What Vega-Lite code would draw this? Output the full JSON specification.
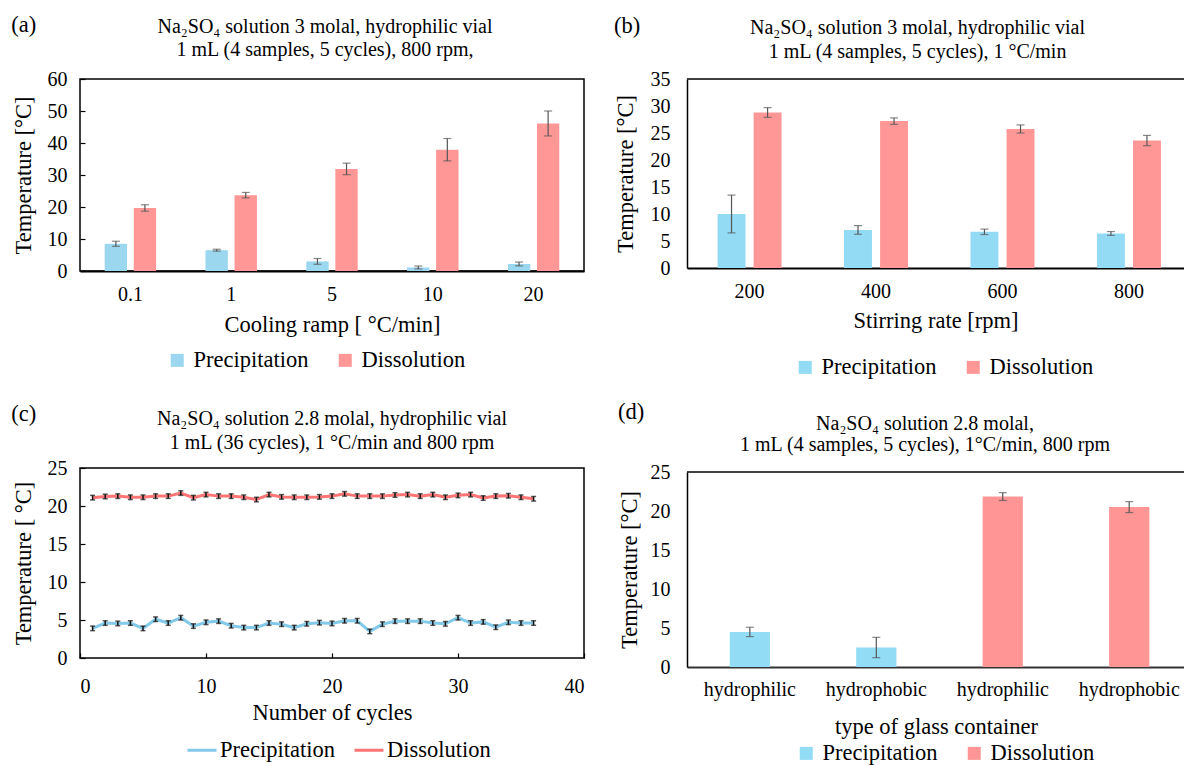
{
  "$schema": "https://vega.github.io/schema/vega-lite/v6.json",
  "background": "white",
  "padding": {"left": 11, "top": 13, "right": 0, "bottom": 0},
  "config": {
    "font": "Liberation Serif, serif",
    "view": {"stroke": "#000", "strokeWidth": 1.5},
    "style": {"guide-label": {"font": "Liberation Serif, serif"}, "guide-title": {"font": "Liberation Serif, serif"}},
    "axis": {"labelFont": "Liberation Serif, serif", "titleFont": "Liberation Serif, serif", "labelFontSize": 20, "titleFontSize": 22.5, "labelColor": "#000", "titleColor": "#000", "titleFontWeight": "normal", "grid": false, "domain": false, "ticks": false, "labelPadding": 16, "titlePadding": 10, "labelOverlap": false},
    "title": {"font": "Liberation Serif, serif", "fontSize": 20, "fontWeight": "normal", "color": "#000", "lineHeight": 23},
    "legend": {"labelFont": "Liberation Serif, serif", "labelFontSize": 22.5, "labelColor": "#000"}
  },
  "spacing": 28,
  "resolve": {"scale": {"color": "independent", "x": "independent", "y": "independent", "xOffset": "independent"}, "legend": {"color": "independent"}},
  "hconcat": [
    {
      "spacing": 30,
      "resolve": {"scale": {"color": "independent", "x": "independent", "y": "independent", "xOffset": "independent"}, "legend": {"color": "independent"}},
      "vconcat": [
        {
          "title": {"text": "(a)", "anchor": "start", "frame": "bounds", "fontSize": 22.5, "offset": -20},
          "vconcat": [
            {
              "width": 504,
              "height": 192,
              "title": {"text": ["Na₂SO₄ solution 3 molal, hydrophilic vial", "1 mL (4 samples, 5 cycles), 800 rpm,"], "offset": 9, "dx": -7},
              "data": {"values": [
                {"ramp": "0.1", "series": "Precipitation", "t": 8.5, "err": 0.8},
                {"ramp": "1", "series": "Precipitation", "t": 6.5, "err": 0.3},
                {"ramp": "5", "series": "Precipitation", "t": 3.0, "err": 0.9},
                {"ramp": "10", "series": "Precipitation", "t": 1.1, "err": 0.45},
                {"ramp": "20", "series": "Precipitation", "t": 2.2, "err": 0.6},
                {"ramp": "0.1", "series": "Dissolution", "t": 19.7, "err": 1.0},
                {"ramp": "1", "series": "Dissolution", "t": 23.7, "err": 0.85},
                {"ramp": "5", "series": "Dissolution", "t": 31.9, "err": 1.8},
                {"ramp": "10", "series": "Dissolution", "t": 37.9, "err": 3.5},
                {"ramp": "20", "series": "Dissolution", "t": 46.1, "err": 3.9}
              ]},
              "encoding": {
                "x": {"field": "ramp", "type": "nominal", "sort": ["0.1", "1", "5", "10", "20"], "scale": {"paddingInner": 0.49, "paddingOuter": 0.245}, "axis": {"title": "Cooling ramp [ °C/min]", "labelFont": "Liberation Serif, serif", "titleFont": "Liberation Serif, serif", "labelAngle": 0, "domain": true, "domainColor": "#000", "domainWidth": 2, "labelPadding": 13, "titlePadding": 9}},
                "xOffset": {"field": "series", "type": "nominal", "sort": ["Precipitation", "Dissolution"], "scale": {"paddingInner": 0.23}},
                "y": {"field": "t", "type": "quantitative", "scale": {"domain": [0, 60], "nice": false}, "axis": {"title": "Temperature [°C]", "labelFont": "Liberation Serif, serif", "titleFont": "Liberation Serif, serif", "values": [0, 10, 20, 30, 40, 50, 60], "ticks": true, "tickSize": -5, "tickColor": "#000", "tickWidth": 1.2, "labelPadding": 18, "titlePadding": 12}}
              },
              "layer": [
                {
                  "mark": {"type": "bar"},
                  "encoding": {
                    "color": {"field": "series", "type": "nominal", "scale": {"domain": ["Precipitation", "Dissolution"], "range": ["#9BD7EF", "#FF9797"]}, "legend": {"orient": "none", "legendX": 86, "legendY": 270, "direction": "horizontal", "title": null, "labelFont": "Liberation Serif, serif", "labelFontSize": 22.5, "symbolType": "square", "symbolSize": 169, "symbolStrokeWidth": 0, "labelOffset": 5, "columnPadding": 25}}
                  }
                },
                {
                  "mark": {"type": "errorbar", "ticks": true, "size": 8, "thickness": 1.2, "color": "#555"},
                  "encoding": {"yError": {"field": "err"}}
                }
              ]
            }
          ]
        },
        {
          "title": {"text": "(c)", "anchor": "start", "frame": "bounds", "fontSize": 22.5, "offset": -17},
          "vconcat": [
            {
              "width": 504,
              "height": 190,
              "title": {"text": ["Na₂SO₄ solution 2.8 molal, hydrophilic vial", "1 mL (36 cycles), 1 °C/min and 800 rpm"], "offset": 5, "lineHeight": 24},
              "data": {"values": [
                {"cycle": 1, "series": "Precipitation", "t": 3.9, "err": 0.3},
                {"cycle": 2, "series": "Precipitation", "t": 4.6, "err": 0.3},
                {"cycle": 3, "series": "Precipitation", "t": 4.55, "err": 0.3},
                {"cycle": 4, "series": "Precipitation", "t": 4.6, "err": 0.3},
                {"cycle": 5, "series": "Precipitation", "t": 3.9, "err": 0.3},
                {"cycle": 6, "series": "Precipitation", "t": 5.1, "err": 0.3},
                {"cycle": 7, "series": "Precipitation", "t": 4.6, "err": 0.3},
                {"cycle": 8, "series": "Precipitation", "t": 5.3, "err": 0.3},
                {"cycle": 9, "series": "Precipitation", "t": 4.2, "err": 0.3},
                {"cycle": 10, "series": "Precipitation", "t": 4.7, "err": 0.3},
                {"cycle": 11, "series": "Precipitation", "t": 4.85, "err": 0.3},
                {"cycle": 12, "series": "Precipitation", "t": 4.25, "err": 0.3},
                {"cycle": 13, "series": "Precipitation", "t": 4.0, "err": 0.3},
                {"cycle": 14, "series": "Precipitation", "t": 4.0, "err": 0.3},
                {"cycle": 15, "series": "Precipitation", "t": 4.6, "err": 0.3},
                {"cycle": 16, "series": "Precipitation", "t": 4.45, "err": 0.3},
                {"cycle": 17, "series": "Precipitation", "t": 4.0, "err": 0.3},
                {"cycle": 18, "series": "Precipitation", "t": 4.5, "err": 0.3},
                {"cycle": 19, "series": "Precipitation", "t": 4.65, "err": 0.3},
                {"cycle": 20, "series": "Precipitation", "t": 4.55, "err": 0.3},
                {"cycle": 21, "series": "Precipitation", "t": 4.9, "err": 0.3},
                {"cycle": 22, "series": "Precipitation", "t": 4.9, "err": 0.3},
                {"cycle": 23, "series": "Precipitation", "t": 3.5, "err": 0.3},
                {"cycle": 24, "series": "Precipitation", "t": 4.45, "err": 0.3},
                {"cycle": 25, "series": "Precipitation", "t": 4.85, "err": 0.3},
                {"cycle": 26, "series": "Precipitation", "t": 4.85, "err": 0.3},
                {"cycle": 27, "series": "Precipitation", "t": 4.85, "err": 0.3},
                {"cycle": 28, "series": "Precipitation", "t": 4.6, "err": 0.3},
                {"cycle": 29, "series": "Precipitation", "t": 4.5, "err": 0.3},
                {"cycle": 30, "series": "Precipitation", "t": 5.3, "err": 0.3},
                {"cycle": 31, "series": "Precipitation", "t": 4.6, "err": 0.3},
                {"cycle": 32, "series": "Precipitation", "t": 4.75, "err": 0.3},
                {"cycle": 33, "series": "Precipitation", "t": 4.05, "err": 0.3},
                {"cycle": 34, "series": "Precipitation", "t": 4.7, "err": 0.3},
                {"cycle": 35, "series": "Precipitation", "t": 4.6, "err": 0.3},
                {"cycle": 36, "series": "Precipitation", "t": 4.6, "err": 0.3},
                {"cycle": 1, "series": "Dissolution", "t": 21.1, "err": 0.3},
                {"cycle": 2, "series": "Dissolution", "t": 21.25, "err": 0.3},
                {"cycle": 3, "series": "Dissolution", "t": 21.3, "err": 0.3},
                {"cycle": 4, "series": "Dissolution", "t": 21.15, "err": 0.3},
                {"cycle": 5, "series": "Dissolution", "t": 21.15, "err": 0.3},
                {"cycle": 6, "series": "Dissolution", "t": 21.3, "err": 0.3},
                {"cycle": 7, "series": "Dissolution", "t": 21.3, "err": 0.3},
                {"cycle": 8, "series": "Dissolution", "t": 21.7, "err": 0.3},
                {"cycle": 9, "series": "Dissolution", "t": 21.1, "err": 0.3},
                {"cycle": 10, "series": "Dissolution", "t": 21.5, "err": 0.3},
                {"cycle": 11, "series": "Dissolution", "t": 21.3, "err": 0.3},
                {"cycle": 12, "series": "Dissolution", "t": 21.3, "err": 0.3},
                {"cycle": 13, "series": "Dissolution", "t": 21.15, "err": 0.3},
                {"cycle": 14, "series": "Dissolution", "t": 20.85, "err": 0.3},
                {"cycle": 15, "series": "Dissolution", "t": 21.5, "err": 0.3},
                {"cycle": 16, "series": "Dissolution", "t": 21.2, "err": 0.3},
                {"cycle": 17, "series": "Dissolution", "t": 21.15, "err": 0.3},
                {"cycle": 18, "series": "Dissolution", "t": 21.15, "err": 0.3},
                {"cycle": 19, "series": "Dissolution", "t": 21.2, "err": 0.3},
                {"cycle": 20, "series": "Dissolution", "t": 21.3, "err": 0.3},
                {"cycle": 21, "series": "Dissolution", "t": 21.6, "err": 0.3},
                {"cycle": 22, "series": "Dissolution", "t": 21.3, "err": 0.3},
                {"cycle": 23, "series": "Dissolution", "t": 21.3, "err": 0.3},
                {"cycle": 24, "series": "Dissolution", "t": 21.3, "err": 0.3},
                {"cycle": 25, "series": "Dissolution", "t": 21.45, "err": 0.3},
                {"cycle": 26, "series": "Dissolution", "t": 21.5, "err": 0.3},
                {"cycle": 27, "series": "Dissolution", "t": 21.3, "err": 0.3},
                {"cycle": 28, "series": "Dissolution", "t": 21.5, "err": 0.3},
                {"cycle": 29, "series": "Dissolution", "t": 21.15, "err": 0.3},
                {"cycle": 30, "series": "Dissolution", "t": 21.4, "err": 0.3},
                {"cycle": 31, "series": "Dissolution", "t": 21.5, "err": 0.3},
                {"cycle": 32, "series": "Dissolution", "t": 21.05, "err": 0.3},
                {"cycle": 33, "series": "Dissolution", "t": 21.3, "err": 0.3},
                {"cycle": 34, "series": "Dissolution", "t": 21.35, "err": 0.3},
                {"cycle": 35, "series": "Dissolution", "t": 21.15, "err": 0.3},
                {"cycle": 36, "series": "Dissolution", "t": 20.95, "err": 0.3}
              ]},
              "encoding": {
                "x": {"field": "cycle", "type": "quantitative", "scale": {"domain": [0, 40], "nice": false}, "axis": {"title": "Number of cycles", "labelFont": "Liberation Serif, serif", "titleFont": "Liberation Serif, serif", "values": [0, 10, 20, 30, 40], "ticks": true, "tickSize": -5, "tickColor": "#000", "tickWidth": 1.2, "labelPadding": 23, "titlePadding": 5}},
                "y": {"field": "t", "type": "quantitative", "scale": {"domain": [0, 25], "nice": false}, "axis": {"title": "Temperature [ °C]", "labelFont": "Liberation Serif, serif", "titleFont": "Liberation Serif, serif", "values": [0, 5, 10, 15, 20, 25], "ticks": true, "tickSize": -5, "tickColor": "#000", "tickWidth": 1.2, "labelPadding": 18, "titlePadding": 12}}
              },
              "layer": [
                {
                  "mark": {"type": "line", "strokeWidth": 3},
                  "encoding": {
                    "color": {"field": "series", "type": "nominal", "scale": {"domain": ["Precipitation", "Dissolution"], "range": ["#82CAE8", "#FF7575"]}, "legend": {"orient": "none", "legendX": 106, "legendY": 266, "direction": "horizontal", "title": null, "labelFont": "Liberation Serif, serif", "labelFontSize": 22.5, "symbolType": "stroke", "symbolSize": 841, "symbolStrokeWidth": 3, "labelOffset": 2, "columnPadding": 13}}
                  }
                },
                {
                  "mark": {"type": "errorbar", "ticks": true, "size": 5, "thickness": 1.5, "color": "#111"},
                  "encoding": {"yError": {"field": "err"}}
                }
              ]
            }
          ]
        }
      ]
    },
    {
      "spacing": 21,
      "resolve": {"scale": {"color": "independent", "x": "independent", "y": "independent", "xOffset": "independent"}, "legend": {"color": "independent"}},
      "vconcat": [
        {
          "title": {"text": "(b)", "anchor": "start", "frame": "bounds", "fontSize": 22.5, "offset": -19},
          "vconcat": [
            {
              "width": 497,
              "height": 189,
              "view": {"stroke": null},
              "title": {"text": ["Na₂SO₄ solution 3 molal, hydrophilic vial", "1 mL (4 samples, 5 cycles), 1 °C/min"], "offset": 7, "lineHeight": 24, "dx": -18},
              "resolve": {"axis": {"y": "independent"}},
              "layer": [
                {
                  "data": {"values": [
                    {"rpm": "200", "series": "Precipitation", "t": 10.0, "err": 3.5},
                    {"rpm": "400", "series": "Precipitation", "t": 7.05, "err": 0.8},
                    {"rpm": "600", "series": "Precipitation", "t": 6.7, "err": 0.5},
                    {"rpm": "800", "series": "Precipitation", "t": 6.4, "err": 0.35},
                    {"rpm": "200", "series": "Dissolution", "t": 28.8, "err": 0.9},
                    {"rpm": "400", "series": "Dissolution", "t": 27.2, "err": 0.6},
                    {"rpm": "600", "series": "Dissolution", "t": 25.75, "err": 0.75},
                    {"rpm": "800", "series": "Dissolution", "t": 23.6, "err": 0.95}
                  ]},
                  "encoding": {
                    "x": {"field": "rpm", "type": "nominal", "sort": ["200", "400", "600", "800"], "scale": {"paddingInner": 0.494, "paddingOuter": 0.212, "align": 0.57}, "axis": {"title": "Stirring rate [rpm]", "labelFont": "Liberation Serif, serif", "titleFont": "Liberation Serif, serif", "labelAngle": 0, "domain": true, "domainColor": "#000", "domainWidth": 2, "labelPadding": 13, "titlePadding": 8}},
                    "xOffset": {"field": "series", "type": "nominal", "sort": ["Precipitation", "Dissolution"], "scale": {"paddingInner": 0.225}},
                    "y": {"field": "t", "type": "quantitative", "scale": {"domain": [0, 35], "nice": false}, "axis": {"title": "Temperature [°C]", "labelFont": "Liberation Serif, serif", "titleFont": "Liberation Serif, serif", "values": [0, 5, 10, 15, 20, 25, 30, 35], "domain": true, "domainColor": "#000", "domainWidth": 1.5, "labelPadding": 17, "titlePadding": 13}}
                  },
                  "layer": [
                    {
                      "mark": {"type": "bar"},
                      "encoding": {
                        "color": {"field": "series", "type": "nominal", "scale": {"domain": ["Precipitation", "Dissolution"], "range": ["#93DBF5", "#FF9797"]}, "legend": {"orient": "none", "legendX": 107, "legendY": 277, "direction": "horizontal", "title": null, "labelFont": "Liberation Serif, serif", "labelFontSize": 22.5, "symbolType": "square", "symbolSize": 169, "symbolStrokeWidth": 0, "labelOffset": 5, "columnPadding": 25}}
                      }
                    },
                    {
                      "mark": {"type": "errorbar", "ticks": true, "size": 8, "thickness": 1.2, "color": "#555"},
                      "encoding": {"yError": {"field": "err"}}
                    }
                  ]
                },
                {
                  "data": {"values": [{"top": 35}]},
                  "mark": {"type": "rule", "color": "#000", "strokeWidth": 1.5},
                  "encoding": {"y": {"field": "top", "type": "quantitative", "axis": null}}
                }
              ]
            }
          ]
        },
        {
          "title": {"text": "(d)", "anchor": "start", "frame": "bounds", "fontSize": 22.5, "offset": -9},
          "vconcat": [
            {
              "width": 498,
              "height": 195,
              "view": {"stroke": null},
              "title": {"text": ["Na₂SO₄ solution 2.8 molal,", "1 mL (4 samples, 5 cycles), 1°C/min, 800 rpm"], "offset": 7, "lineHeight": 21, "dx": -11},
              "resolve": {"axis": {"y": "independent"}},
              "layer": [
                {
                  "data": {"values": [
                    {"pos": "1", "container": "hydrophilic", "series": "Precipitation", "t": 4.5, "err": 0.6},
                    {"pos": "2", "container": "hydrophobic", "series": "Precipitation", "t": 2.5, "err": 1.3},
                    {"pos": "3", "container": "hydrophilic", "series": "Dissolution", "t": 21.85, "err": 0.5},
                    {"pos": "4", "container": "hydrophobic", "series": "Dissolution", "t": 20.5, "err": 0.7}
                  ]},
                  "encoding": {
                    "x": {"field": "pos", "type": "nominal", "sort": ["1", "2", "3", "4"], "scale": {"paddingInner": 0.682, "paddingOuter": 0.31, "align": 0.545}, "axis": {"title": "type of glass container", "labelFont": "Liberation Serif, serif", "titleFont": "Liberation Serif, serif", "labelAngle": 0, "labelExpr": "datum.value == '1' || datum.value == '3' ? 'hydrophilic' : 'hydrophobic'", "domain": true, "domainColor": "#333", "domainWidth": 2, "labelPadding": 12, "titlePadding": 16}},
                    "y": {"field": "t", "type": "quantitative", "scale": {"domain": [0, 25], "nice": false}, "axis": {"title": "Temperature [°C]", "labelFont": "Liberation Serif, serif", "titleFont": "Liberation Serif, serif", "values": [0, 5, 10, 15, 20, 25], "domain": true, "domainColor": "#000", "domainWidth": 1.5, "labelPadding": 17, "titlePadding": 9}}
                  },
                  "layer": [
                    {
                      "mark": {"type": "bar"},
                      "encoding": {
                        "color": {"field": "series", "type": "nominal", "scale": {"domain": ["Precipitation", "Dissolution"], "range": ["#92DCF6", "#FF9595"]}, "legend": {"orient": "none", "legendX": 108, "legendY": 270, "direction": "horizontal", "title": null, "labelFont": "Liberation Serif, serif", "labelFontSize": 22.5, "symbolType": "square", "symbolSize": 169, "symbolStrokeWidth": 0, "labelOffset": 5, "columnPadding": 25}}
                      }
                    },
                    {
                      "mark": {"type": "errorbar", "ticks": true, "size": 8, "thickness": 1.2, "color": "#555"},
                      "encoding": {"yError": {"field": "err"}}
                    }
                  ]
                },
                {
                  "data": {"values": [{"top": 25}]},
                  "mark": {"type": "rule", "color": "#000", "strokeWidth": 1.5},
                  "encoding": {"y": {"field": "top", "type": "quantitative", "axis": null}}
                }
              ]
            }
          ]
        }
      ]
    }
  ]
}
